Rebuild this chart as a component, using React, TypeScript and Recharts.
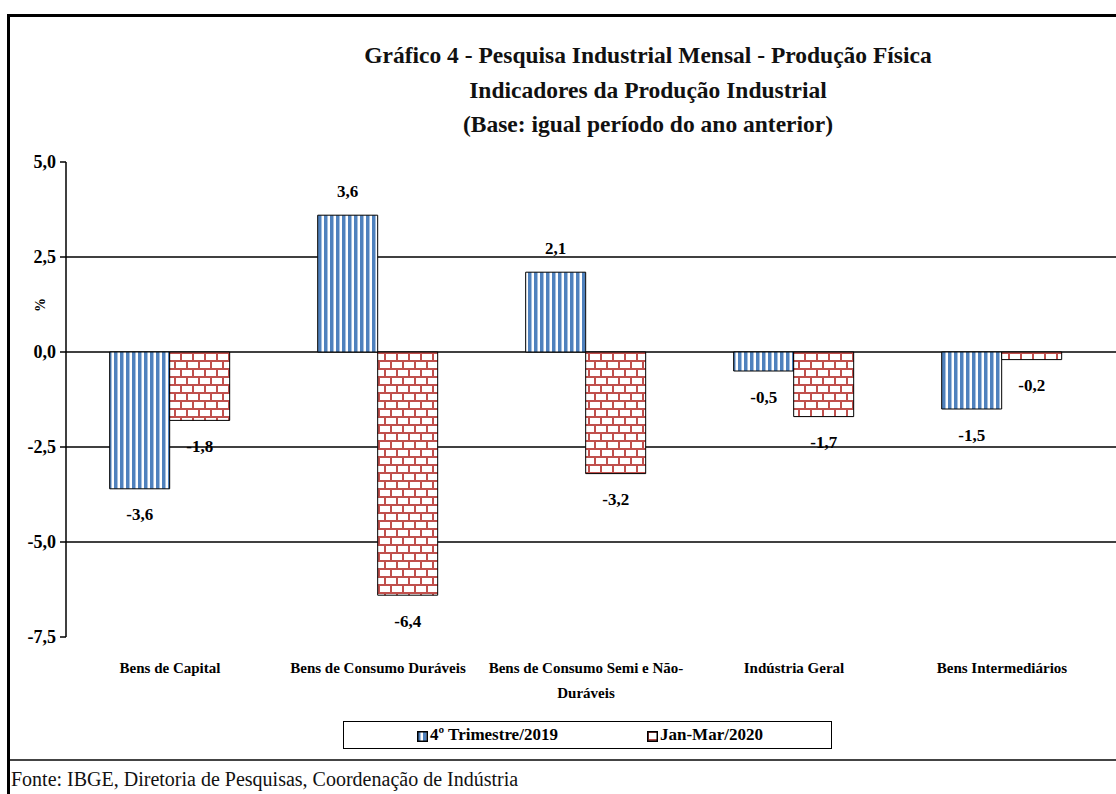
import { BarChart, Bar, XAxis, YAxis, CartesianGrid, LabelList } from 'recharts';

const categories = [
  'Bens de Capital',
  'Bens de Consumo Duráveis',
  'Bens de Consumo Semi e Não-Duráveis',
  'Indústria Geral',
  'Bens Intermediários',
];
const trim4_2019 = [-3.6, 3.6, 2.1, -0.5, -1.5];
const janMar2020 = [-1.8, -6.4, -3.2, -1.7, -0.2];
const yTicks = [5, 2.5, 0, -2.5, -5, -7.5];
const gridValues = [2.5, 0, -2.5, -5];

const SERIES_A = '4º Trimestre/2019';
const SERIES_B = 'Jan-Mar/2020';

const data = categories.map((name, i) => ({
  name,
  a: trim4_2019[i],
  b: janMar2020[i],
}));

const FONT = '"Liberation Serif", "DejaVu Serif", serif';

const fmt = (v: number) => v.toFixed(1).replace('.', ',');

function CategoryTick({ x, y, payload }: any) {
  const text: string = payload.value;
  let lines = [text];
  if (text.length > 28) {
    const cut = text.lastIndexOf('-', 28);
    lines = [text.slice(0, cut + 1), text.slice(cut + 1)];
  }
  return (
    <g>
      {lines.map((l, i) => (
        <text
          key={i}
          x={x}
          y={y + 28 + i * 25}
          textAnchor="middle"
          fontFamily={FONT}
          fontWeight="bold"
          fontSize={15}
          fill="#000"
        >
          {l}
        </text>
      ))}
    </g>
  );
}

function ValueTick({ x, y, payload }: any) {
  return (
    <text
      x={x - 2}
      y={y}
      textAnchor="end"
      dominantBaseline="central"
      fontFamily={FONT}
      fontWeight="bold"
      fontSize={18}
      fill="#000"
    >
      {fmt(payload.value)}
    </text>
  );
}

function ValueLabel({ x, y, width, height, value }: any) {
  const top = Math.min(y, y + height);
  const bottom = Math.max(y, y + height);
  const ly = value >= 0 ? top - 24 : bottom + 26;
  return (
    <text
      x={x + width / 2}
      y={ly}
      textAnchor="middle"
      dominantBaseline="central"
      fontFamily={FONT}
      fontWeight="bold"
      fontSize={17}
      fill="#000"
    >
      {fmt(value)}
    </text>
  );
}

function LegendIcon({ fill }: { fill: string }) {
  return (
    <svg width={11} height={11} style={{ verticalAlign: 'middle', marginRight: 2 }}>
      <rect x={0.75} y={0.75} width={9.5} height={9.5} fill={fill} stroke="#000" strokeWidth={1.5} />
    </svg>
  );
}

export default function App() {
  return (
    <div
      style={{
        position: 'absolute',
        left: 0,
        top: 0,
        width: 1116,
        height: 794,
        overflow: 'hidden',
        background: '#fff',
        fontFamily: FONT,
      }}
    >
      {/* frame */}
      <div
        style={{
          position: 'absolute',
          left: 7,
          top: 14,
          width: 1120,
          height: 742,
          borderLeft: '3px solid #000',
          borderTop: '3px solid #000',
          borderBottom: '2px solid #444',
        }}
      />
      <div style={{ position: 'absolute', left: 7, top: 756, width: 3, height: 40, background: '#000' }} />

      <div
        style={{
          position: 'absolute',
          left: 0,
          top: 38,
          width: 1296,
          textAlign: 'center',
          fontWeight: 'bold',
          fontSize: 23.5,
          lineHeight: '34.5px',
          color: '#111',
        }}
      >
        <div>Gráfico 4 - Pesquisa Industrial Mensal - Produção Física</div>
        <div>Indicadores da Produção Industrial</div>
        <div>(Base: igual período do ano anterior)</div>
      </div>

      <div style={{ position: 'absolute', left: 0, top: 0 }}>
        <BarChart
          width={1116}
          height={794}
          data={data}
          margin={{ top: 162, right: 0, bottom: 117, left: 0 }}
          barCategoryGap="21%"
          barGap={0}
        >
          <defs>
            <pattern id="stripes" width={6} height={10} patternUnits="userSpaceOnUse">
              <rect width={6} height={10} fill="#fff" />
              <rect x={0} width={3.5} height={10} fill="#4F81BD" />
            </pattern>
            <pattern id="bricks" width={24} height={16} patternUnits="userSpaceOnUse">
              <rect width={24} height={16} fill="#fff" />
              <rect x={0} y={0} width={24} height={2} fill="#C0504D" />
              <rect x={0} y={8} width={24} height={2} fill="#C0504D" />
              <rect x={0} y={0} width={2} height={8} fill="#C0504D" />
              <rect x={12} y={0} width={2} height={8} fill="#C0504D" />
              <rect x={6} y={8} width={2} height={8} fill="#C0504D" />
              <rect x={18} y={8} width={2} height={8} fill="#C0504D" />
            </pattern>
          </defs>
          <CartesianGrid
            vertical={false}
            stroke="#000"
            strokeWidth={1.5}
            {...({ horizontalValues: gridValues } as any)}
          />
          <XAxis
            dataKey="name"
            axisLine={false}
            tickLine={false}
            height={40}
            interval={0}
            padding={{ left: 0, right: 10 }}
            tick={<CategoryTick />}
          />
          <YAxis
            width={66}
            domain={[-7.5, 5]}
            ticks={yTicks}
            interval={0}
            axisLine={{ stroke: '#000', strokeWidth: 1.5 }}
            tickLine={{ stroke: '#000', strokeWidth: 1.5 }}
            tickSize={6}
            tick={<ValueTick />}
            label={() => (
              <text
                x={40}
                y={305}
                transform="rotate(-90 40 305)"
                textAnchor="middle"
                dominantBaseline="central"
                fontFamily={FONT}
                fontWeight="bold"
                fontSize={14}
                fill="#000"
              >
                %
              </text>
            )}
          />
          <Bar dataKey="a" name={SERIES_A} fill="url(#stripes)" stroke="#000" strokeWidth={1} isAnimationActive={false}>
            <LabelList dataKey="a" content={<ValueLabel />} />
          </Bar>
          <Bar dataKey="b" name={SERIES_B} fill="url(#bricks)" stroke="#000" strokeWidth={1} isAnimationActive={false}>
            <LabelList dataKey="b" content={<ValueLabel />} />
          </Bar>
        </BarChart>
      </div>

      {/* legend */}
      <div
        style={{
          position: 'absolute',
          left: 343,
          top: 721,
          width: 487,
          height: 26,
          border: '1.5px solid #000',
          fontWeight: 'bold',
          fontSize: 17,
          lineHeight: '26px',
        }}
      >
        <span style={{ position: 'absolute', left: 73, top: 0 }}>
          <LegendIcon fill="url(#stripes)" />
          {SERIES_A}
        </span>
        <span style={{ position: 'absolute', left: 303, top: 0 }}>
          <LegendIcon fill="url(#bricks)" />
          {SERIES_B}
        </span>
      </div>

      <div style={{ position: 'absolute', left: 11, top: 768, fontSize: 20, color: '#111' }}>
        Fonte: IBGE, Diretoria de Pesquisas, Coordenação de Indústria
      </div>
    </div>
  );
}
